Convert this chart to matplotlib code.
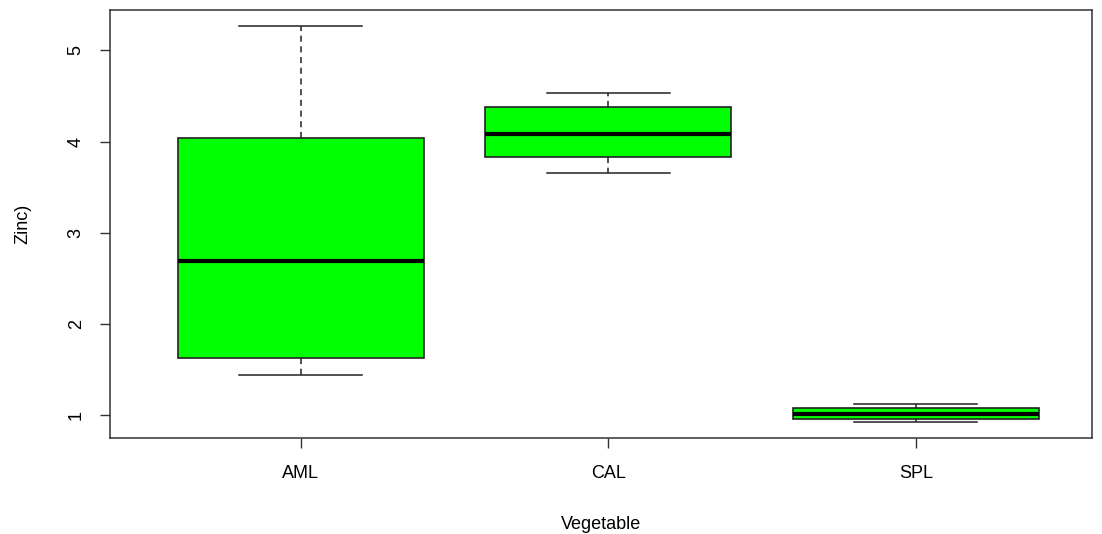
import matplotlib.pyplot as plt

plt.rcParams['font.family'] = ['Liberation Sans', 'DejaVu Sans']

# five-number summaries per vegetable (zinc)
vegetables = ["AML", "CAL", "SPL"]
whisker_low = [1.44, 3.66, 0.92]
q1 = [1.62, 3.83, 0.95]
medians = [2.69, 4.08, 1.01]
q3 = [4.04, 4.38, 1.07]
whisker_high = [5.27, 4.53, 1.12]

stats = []
for name, lo, a, m, b, hi in zip(vegetables, whisker_low, q1, medians, q3, whisker_high):
    stats.append(dict(label=name, whislo=lo, q1=a, med=m, q3=b, whishi=hi, fliers=[]))

fig = plt.figure(figsize=(11.02, 5.34), dpi=100)
ax = fig.add_axes([110/1102, 96/534, 982/1102, 428/534])

ax.bxp(stats, positions=[1, 2, 3], widths=0.8, capwidths=0.4,
       patch_artist=True, showfliers=False,
       boxprops=dict(facecolor='#00ff00', edgecolor='#222222', linewidth=1.2),
       whiskerprops=dict(color='#222222', linewidth=1.1, linestyle=(0, (4, 3))),
       capprops=dict(color='#222222', linewidth=1.1),
       medianprops=dict(color='black', linewidth=3, solid_capstyle='butt'))

ax.set_xlim(0.379, 3.573)
ax.set_ylim(0.746, 5.444)
ax.set_yticks([1, 2, 3, 4, 5])
ax.set_xticks([1, 2, 3])
ax.set_xticklabels(vegetables)

for s in ax.spines.values():
    s.set_color('#333333')
    s.set_linewidth(1.1)

ax.tick_params(axis='both', length=7.2, width=1, color='#333333', labelsize=13)
ax.tick_params(axis='x', pad=12)
ax.tick_params(axis='y', pad=11)
for lab in ax.get_yticklabels():
    lab.set_rotation(90)
    lab.set_va('center')

ax.set_xlabel("Vegetable", fontsize=13, labelpad=25)
ax.set_ylabel("Zinc)", fontsize=13, labelpad=26)

fig.savefig("out.png", dpi=100)
